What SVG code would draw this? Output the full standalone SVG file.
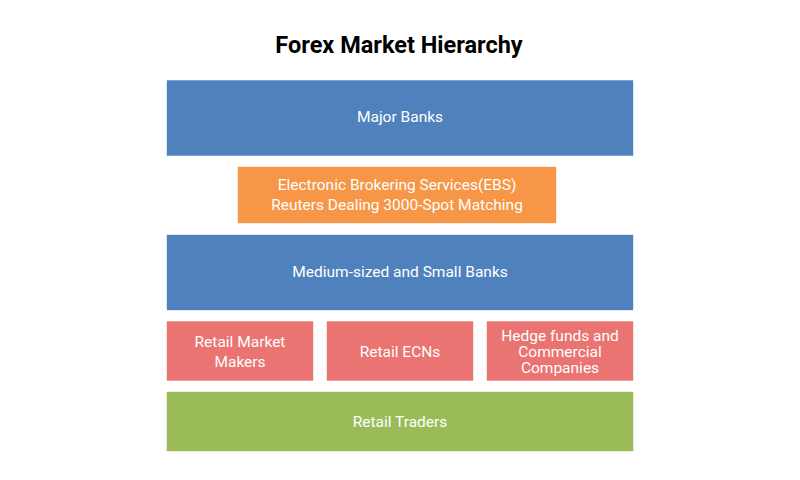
<svg xmlns="http://www.w3.org/2000/svg" width="800" height="480" viewBox="0 0 800 480">
<style>
.box{stroke:#ffffff;stroke-opacity:0.6;stroke-width:1}
.blue{fill:#4F81BD}.orange{fill:#F79646}.red{fill:#E97471}.green{fill:#9BBB59}
.t{font-family:Roboto,"Liberation Sans",sans-serif;font-size:15.5px;fill:#ffffff;text-anchor:middle}
.title{font-family:Roboto,"Liberation Sans",sans-serif;font-size:23.5px;font-weight:bold;fill:#000000;text-anchor:middle}
</style>
<rect width="800" height="480" fill="#ffffff"/>
<text class="title" x="399" y="53">Forex Market Hierarchy</text>
<g id="major-banks"><rect class="box blue" x="166.5" y="80" width="467" height="76"/><text class="t" x="400" y="122">Major Banks</text></g>
<g id="ebs"><rect class="box orange" x="237.5" y="166.5" width="319" height="57"/><text class="t" x="397" y="190">Electronic Brokering Services(EBS)</text><text class="t" x="397" y="210">Reuters Dealing 3000-Spot Matching</text></g>
<g id="medium-banks"><rect class="box blue" x="166.5" y="234.5" width="467" height="76"/><text class="t" x="400" y="277">Medium-sized and Small Banks</text></g>
<g id="retail-mm"><rect class="box red" x="166.5" y="321" width="147" height="60"/><text class="t" x="240" y="347">Retail Market</text><text class="t" x="240" y="367">Makers</text></g>
<g id="retail-ecn"><rect class="box red" x="326.5" y="321" width="147" height="60"/><text class="t" x="400" y="357">Retail ECNs</text></g>
<g id="hedge"><rect class="box red" x="486.5" y="321" width="147" height="60"/><text class="t" x="560" y="341">Hedge funds and</text><text class="t" x="560" y="357">Commercial</text><text class="t" x="560" y="373">Companies</text></g>
<g id="retail-traders"><rect class="box green" x="166.5" y="391.5" width="467" height="60"/><text class="t" x="400" y="427">Retail Traders</text></g>
<g id="connectors"></g>
</svg>
